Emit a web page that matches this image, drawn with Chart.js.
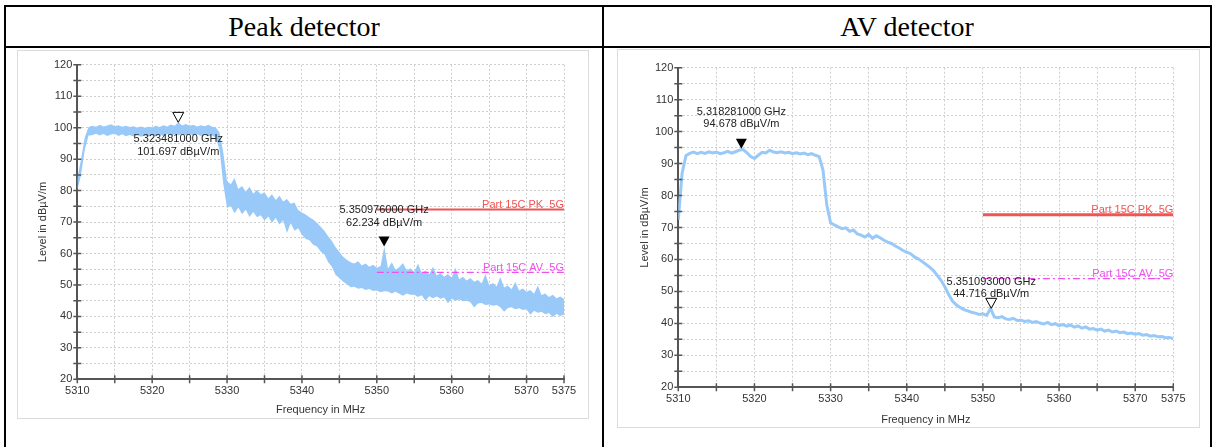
<!DOCTYPE html>
<html>
<head>
<meta charset="utf-8">
<script src="https://cdn.jsdelivr.net/npm/chart.js@4.4.0/dist/chart.umd.min.js"></script>
<style>
  body { margin: 0; background: #fff; width: 1214px; height: 447px; overflow: hidden; position: relative; }
  .line { position: absolute; background: #000; }
  .head { position: absolute; top: 7px; height: 39px; line-height: 39px; text-align: center;
          font-family: "Liberation Serif", "Times New Roman", serif; font-size: 28px; color: #000; }
  .frame { position: absolute; border: 1px solid #dcdcdc; background: #fff; }
  canvas { display: block; }
</style>
</head>
<body>
<div class="line" style="left:4px;top:5px;width:1208px;height:2px"></div>
<div class="line" style="left:4px;top:46px;width:1208px;height:2px"></div>
<div class="line" style="left:4px;top:5px;width:2px;height:442px"></div>
<div class="line" style="left:602px;top:5px;width:2px;height:442px"></div>
<div class="line" style="left:1210px;top:5px;width:2px;height:442px"></div>
<div class="head" style="left:6px;width:596px">Peak detector</div>
<div class="head" style="left:604px;width:606px">AV detector</div>
<div class="frame" style="left:17px;top:50px;width:570px;height:367px">
  <canvas id="peakChart" width="570" height="367"></canvas>
</div>
<div class="frame" style="left:617px;top:49px;width:581px;height:377px">
  <canvas id="avChart" width="581" height="377"></canvas>
</div>

<script>
// sweep grid: 5310 .. 5375 MHz, 0.5 MHz per point
const sweepFreq = Array.from({ length: 131 }, (_, i) => 5310 + i * 0.5);

// peak detector trace, upper and lower edge of the noise band (dBµV/m)
const peakHigh = [
  84, 90, 97, 100.2, 100.6, 100.3, 100.9, 100.4, 100.7, 101.1,
  100.5, 100.8, 100.3, 100.6, 100.2, 100.5, 100.1, 100.4, 100.0, 100.3,
  100.1, 100.6, 100.2, 100.8, 100.4, 101.0, 100.6, 101.7, 100.7, 101.2,
  100.6, 100.9, 100.4, 100.8, 100.5, 100.9, 100.3, 100.1, 98.5, 92,
  83, 82, 84, 80.5, 81.5, 79.6, 81.2, 79, 80.3, 78.8,
  79.5, 77.6, 78.8, 77, 78.4, 76.5, 77.3, 75.8, 76.2, 73.8,
  73, 72.4, 71.5, 70.8, 69.8, 68.5, 67.2, 65.5, 64, 62,
  60.5, 59, 58, 57.2, 56.8, 57.5, 56.2, 56.8, 55.8, 56.4,
  55.5, 56, 62.2, 55.2, 57.2, 54.8, 55.6, 57, 54.5, 55.3,
  54, 56.8, 53.8, 54.6, 53.4, 55.8, 53, 53.8, 52.6, 53.5,
  52.3, 55.5, 51.8, 52.6, 51.4, 52.2, 51, 51.6, 50.5, 53.5,
  50, 50.6, 49.5, 52.5, 49.2, 49.8, 48.6, 51, 48.2, 48.9,
  47.8, 48.4, 47.2, 49.8, 46.8, 47.3, 46.2, 46.9, 45.8, 46.3,
  45.5
];
const peakLow = [
  80, 85, 93, 97.5, 97.6, 98.1, 97.5, 98.0, 97.4, 97.8,
  98.1, 97.4, 97.9, 97.3, 97.7, 97.2, 97.6, 97.1, 97.5, 97.2,
  97.6, 97.2, 97.8, 97.4, 98.0, 97.5, 97.9, 97.6, 98.1, 97.6,
  98.0, 97.5, 97.9, 97.4, 97.8, 97.3, 97.6, 96.8, 93, 82,
  74.5, 75.2, 72.8, 74.6, 72.5, 73.9, 71.6, 73.2, 71.5, 72.2,
  70.4, 71.8, 69.8, 71.3, 69.2, 70.6, 66.5, 69.6, 67.2, 68,
  66, 64.6, 64.2, 62.8, 62.2, 60.6, 59.8, 57.2, 55.8, 53.2,
  52.2, 51, 50.3, 49.3, 49.4, 48.8, 49, 48.4, 48.7, 48.1,
  48.2, 47.7, 48, 47.9, 47.3, 47.8, 47.2, 46.6, 47.3, 46.9,
  46.9, 46.2, 46.7, 45, 46.4, 45.8, 46.3, 45.6, 46, 44.2,
  45.6, 45, 45.4, 44.8, 45, 44.5, 42.8, 44.1, 44.3, 43.6,
  43.8, 43.4, 43.6, 42.9, 41.5, 42.7, 42.9, 42.3, 42.6, 42,
  42.3, 40.5, 41.8, 41.2, 41.5, 40.7, 41.1, 39.8, 40.8, 40.1,
  40.6
];

// average detector trace (dBµV/m)
const avLevel = [
  72.5, 87, 92.5, 93.2, 93.6, 93.1, 93.5, 93.2, 93.7, 93.3,
  93.6, 93.1, 93.4, 93.8, 93.3, 93.7, 94.2, 94.4, 93.4, 92.2,
  91.6, 92.6, 93.5, 93.3, 94.2, 93.6, 93.4, 93.7, 93.3, 93.5,
  93.1, 93.4, 93.0, 93.3, 92.8, 93.1, 92.6, 92.2, 88, 77,
  71.5, 70.8, 70.2, 69.6, 69.9, 68.8, 69.2, 68, 67.6, 67,
  67.8, 66.6, 67.4, 66.8, 66, 65.4, 65, 64.2, 63.6, 62.8,
  62.3, 61.8, 60.8, 60.2, 59.4, 58.5, 57.6, 56.5, 55, 53.5,
  51.5, 49, 47, 45.8, 45, 44.3, 43.9, 43.5, 43.2, 42.8,
  43, 42.5, 44.7, 42, 41.8, 42.1, 41.4, 41.2, 41.6, 40.9,
  41, 40.6, 40.8, 40.3, 40.6, 40.1, 39.8, 40.3, 39.6, 39.9,
  39.3, 39.6, 39.1, 39.5, 38.8, 39.2, 38.5, 38.9, 38.2, 38.4,
  37.9, 38.2, 37.6, 37.9, 37.3, 37.6, 37.1, 37.3, 36.8, 37,
  36.6, 36.8, 36.3, 36.5, 36, 36.2, 35.8, 35.9, 35.5, 35.6,
  35.2
];

// limit lines
const limitFreq = [5350, 5375];
const pkLimit = [74, 74];
const avLimit = [54, 54];

// markers
const peakMarkerFreq = [5323.481, 5350.976];
const peakMarkerLevel = [101.697, 62.234];
const avMarkerFreq = [5318.281, 5351.093];
const avMarkerLevel = [94.678, 44.716];

const traceColor = "rgb(152, 201, 248)";
const pkColor = "#f05454";
const avColor = "#f04ff0";

Chart.defaults.font.family = '"Liberation Sans", Arial, sans-serif';
Chart.defaults.font.size = 11;
Chart.defaults.color = "#333";

function points(xs, ys) {
  return xs.map((x, i) => ({ x: x, y: ys[i] }));
}

function markerPlugin(markers, limits) {
  return {
    id: "markers",
    afterDatasetsDraw(chart) {
      const ctx = chart.ctx;
      const xs = chart.scales.x;
      const ys = chart.scales.y;
      ctx.save();
      // small cross ticks on both axes
      ctx.strokeStyle = "#555";
      ctx.lineWidth = 1.5;
      ctx.beginPath();
      ys.ticks.forEach((t) => {
        const y = ys.getPixelForValue(t.value);
        ctx.moveTo(xs.left - 4, y);
        ctx.lineTo(xs.left + 4, y);
      });
      xs.ticks.forEach((t) => {
        const x = xs.getPixelForValue(t.value);
        ctx.moveTo(x, ys.bottom - 4);
        ctx.lineTo(x, ys.bottom + 4);
      });
      ctx.stroke();

      ctx.font = '11px "Liberation Sans", Arial, sans-serif';
      ctx.textAlign = "right";
      ctx.textBaseline = "alphabetic";
      limits.forEach((l) => {
        ctx.fillStyle = l.color;
        ctx.fillText(l.text, xs.getPixelForValue(l.freq), ys.getPixelForValue(l.level) - l.lift);
      });

      markers.forEach((m) => {
        const x = xs.getPixelForValue(m.freq);
        const y = ys.getPixelForValue(m.level);
        ctx.beginPath();
        ctx.moveTo(x, y);
        ctx.lineTo(x - 5.5, y - 10);
        ctx.lineTo(x + 5.5, y - 10);
        ctx.closePath();
        if (m.filled) {
          ctx.fillStyle = "#000";
          ctx.fill();
        } else {
          ctx.fillStyle = "#fff";
          ctx.fill();
          ctx.strokeStyle = "#000";
          ctx.lineWidth = 1;
          ctx.stroke();
        }
        ctx.fillStyle = "#222";
        ctx.textAlign = "center";
        ctx.textBaseline = "middle";
        ctx.fillText((m.freq / 1000).toFixed(9) + " GHz", x, y + m.dy[0]);
        ctx.fillText(m.level.toFixed(3) + " dB\u00b5V/m", x, y + m.dy[1]);
      });
      ctx.restore();
    },
  };
}

function axisOptions(box) {
  return {
    x: {
      type: "linear",
      min: 5310,
      max: 5375,
      afterFit: (s) => { s.height = box.xHeight; },
      ticks: {
        stepSize: 5,
        autoSkip: false,
        maxRotation: 0,
        padding: 5,
        callback: (v) => (v % 10 === 0 || v === 5375 ? String(v) : ""),
      },
      grid: { color: "#cfcfcf", lineWidth: 1, drawTicks: false },
      border: { color: "#555", width: 2, dash: [2, 2] },
      title: { display: true, text: "Frequency in MHz", padding: { top: 0, bottom: box.xTitlePad } },
    },
    y: {
      min: 20,
      max: 120,
      afterFit: (s) => { s.width = box.yWidth; },
      ticks: {
        stepSize: 5,
        autoSkip: false,
        padding: 5,
        callback: (v) => (v % 10 === 0 ? String(v) : ""),
      },
      grid: { color: "#cfcfcf", lineWidth: 1, drawTicks: false },
      border: { color: "#555", width: 2, dash: [2, 2] },
      title: { display: true, text: "Level in dB\u00b5V/m", padding: { top: box.yTitlePad, bottom: 0 } },
    },
  };
}

function limitDatasets(pkWidth) {
  return [
    { data: points(limitFreq, pkLimit), borderColor: pkColor, borderWidth: pkWidth, pointRadius: 0, fill: false },
    { data: points(limitFreq, avLimit), borderColor: avColor, borderWidth: 1.2, borderDash: [7, 3, 2, 3], pointRadius: 0, fill: false },
  ];
}

function limitLabels(lift) {
  return [
    { text: "Part 15C PK_5G", freq: 5375, level: pkLimit[1], color: pkColor, lift: lift },
    { text: "Part 15C AV_5G", freq: 5375, level: avLimit[1], color: avColor, lift: lift },
  ];
}

function makePeakChart() {
  const box = { top: 13.8, right: 24, yWidth: 59.3, xHeight: 38.7, yTitlePad: 18.4, xTitlePad: 1.4 };
  new Chart(document.getElementById("peakChart"), {
    type: "line",
    data: {
      datasets: limitDatasets(2).concat([
        { data: points(sweepFreq, peakHigh), borderColor: traceColor, backgroundColor: traceColor, borderWidth: 0, pointRadius: 0, fill: "+1" },
        { data: points(sweepFreq, peakLow), borderColor: traceColor, borderWidth: 0, pointRadius: 0, fill: false },
      ]),
    },
    options: {
      responsive: false,
      animation: false,
      layout: { padding: { top: box.top, right: box.right, left: 0, bottom: 0 } },
      scales: axisOptions(box),
      plugins: { legend: { display: false }, tooltip: { enabled: false } },
    },
    plugins: [
      markerPlugin(
        [
          { freq: peakMarkerFreq[0], level: peakMarkerLevel[0], filled: false, dy: [16.6, 29.6] },
          { freq: peakMarkerFreq[1], level: peakMarkerLevel[1], filled: true, dy: [-36.5, -23.5] },
        ],
        limitLabels(1)
      ),
    ],
  });
}

function makeAvChart() {
  const box = { top: 17.7, right: 25.7, yWidth: 60.3, xHeight: 39.7, yTitlePad: 20.4, xTitlePad: 0.4 };
  new Chart(document.getElementById("avChart"), {
    type: "line",
    data: {
      datasets: limitDatasets(3).concat([
        { data: points(sweepFreq, avLevel), borderColor: traceColor, borderWidth: 3, pointRadius: 0, fill: false },
      ]),
    },
    options: {
      responsive: false,
      animation: false,
      layout: { padding: { top: box.top, right: box.right, left: 0, bottom: 0 } },
      scales: axisOptions(box),
      plugins: { legend: { display: false }, tooltip: { enabled: false } },
    },
    plugins: [
      markerPlugin(
        [
          { freq: avMarkerFreq[0], level: avMarkerLevel[0], filled: true, dy: [-37, -24.6] },
          { freq: avMarkerFreq[1], level: avMarkerLevel[1], filled: false, dy: [-26.6, -14.3] },
        ],
        limitLabels(2)
      ),
    ],
  });
}

makePeakChart();
makeAvChart();
</script>
</body>
</html>
